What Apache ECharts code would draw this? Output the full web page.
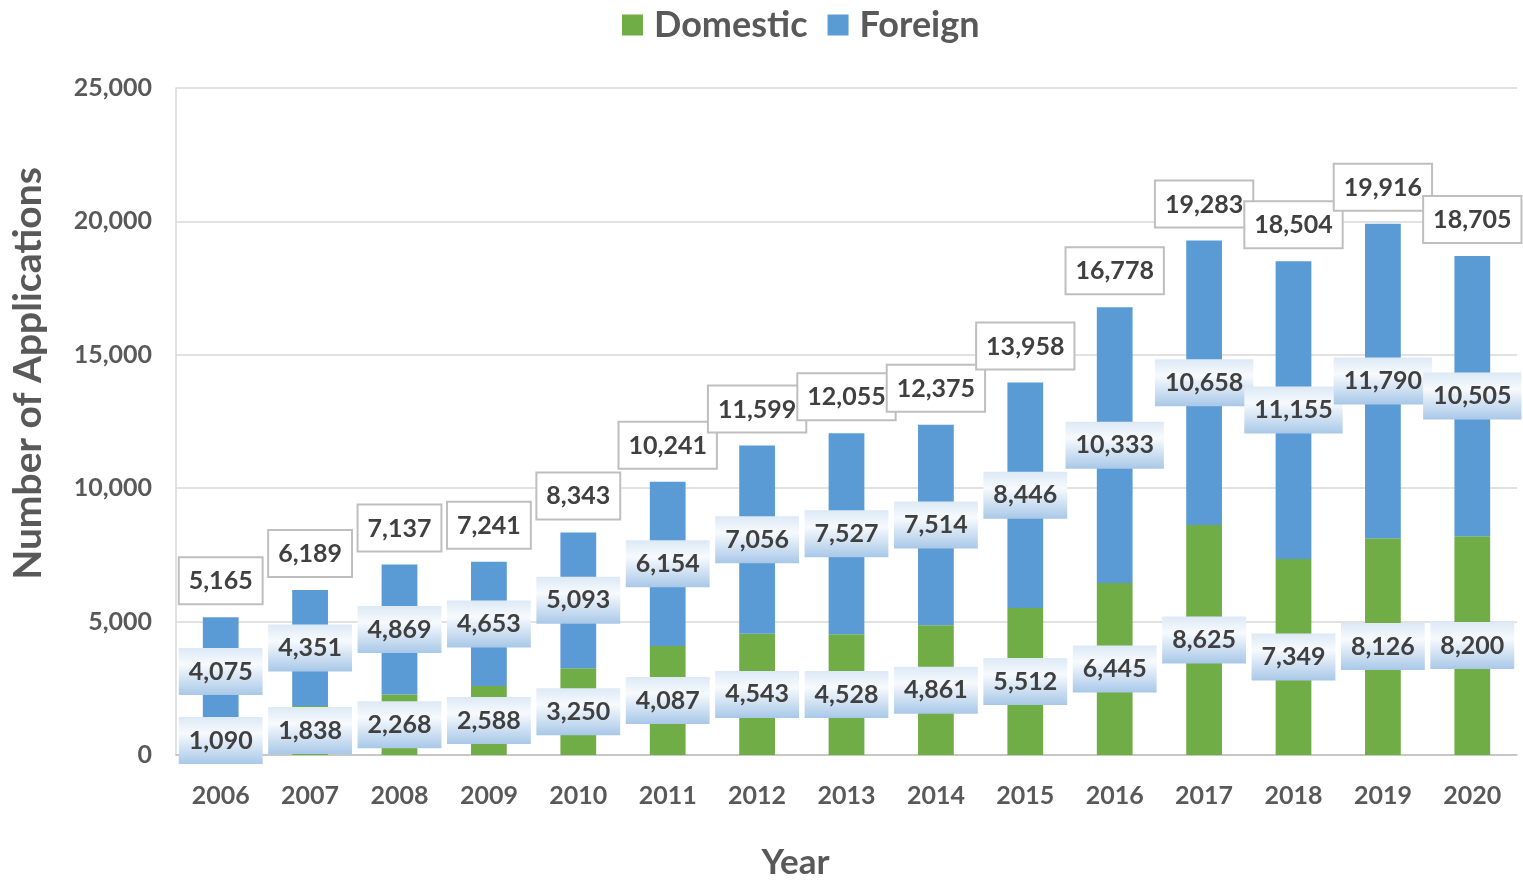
<!DOCTYPE html>
<html>
<head>
<meta charset="utf-8">
<script src="https://cdn.jsdelivr.net/npm/echarts@6/dist/echarts.min.js"></script>
<style>
html,body{margin:0;padding:0;background:#fff;}
#chart{width:1523px;height:881px;}
</style>
</head>
<body>
<div id="chart"></div>
<script>
const years = ['2006','2007','2008','2009','2010','2011','2012','2013','2014','2015','2016','2017','2018','2019','2020'];
const domestic = [1090,1838,2268,2588,3250,4087,4543,4528,4861,5512,6445,8625,7349,8126,8200];
const foreign = [4075,4351,4869,4653,5093,6154,7056,7527,7514,8446,10333,10658,11155,11790,10505];
const totals = [5165,6189,7137,7241,8343,10241,11599,12055,12375,13958,16778,19283,18504,19916,18705];
const yTicks = [0,5000,10000,15000,20000,25000];

const FONT = 'Lato, "Open Sans", sans-serif';
const fmt = v => Number(v).toLocaleString('en-US');

const chart = echarts.init(document.getElementById('chart'));
const grad = () => new echarts.graphic.LinearGradient(0,0,0,1,[
  {offset:0,color:'#dce9f6'},
  {offset:0.35,color:'#f7fafd'},
  {offset:1,color:'#a8c8e8'}
]);
const segLabel = {
  show:true, position:'inside',
  formatter: p => fmt(p.value),
  fontFamily:FONT, fontWeight:'bold', fontSize:25, color:'#404040',
  lineHeight:26,
  backgroundColor: grad(), padding:[11,10,10,10]
};
chart.setOption({
  animation:false,
  textStyle:{fontFamily:FONT},
  legend:{
    top:2, left:617, itemWidth:21, itemHeight:21, itemGap:20,
    icon:'rect',
    textStyle:{fontFamily:FONT, fontWeight:'bold', fontSize:36, color:'#595959', padding:[0,0,0,6]},
    data:['Domestic','Foreign']
  },
  grid:{left:176, right:6, top:88, bottom:126, outerBoundsMode:'none', containLabel:false},
  xAxis:{
    type:'category', data:years,
    name:'Year', nameLocation:'middle', nameGap:90,
    nameTextStyle:{fontFamily:FONT, fontWeight:'bold', fontSize:35, color:'#595959', padding:[0,102,0,0]},
    axisLine:{lineStyle:{color:'#bfbfbf', width:1.5}},
    axisTick:{show:false},
    axisLabel:{fontFamily:FONT, fontWeight:'bold', fontSize:25, color:'#595959', margin:28}
  },
  yAxis:{
    type:'value', min:0, max:25000, interval:5000,
    name:'Number of Applications', nameLocation:'middle', nameGap:128, nameRotate:90,
    nameTextStyle:{fontFamily:FONT, fontWeight:'bold', fontSize:39, color:'#595959', padding:[0,0,0,96]},
    axisLine:{show:true, lineStyle:{color:'#d9d9d9', width:1.5}},
    axisTick:{show:false},
    splitLine:{lineStyle:{color:'#d9d9d9', width:1.5}},
    axisLabel:{fontFamily:FONT, fontWeight:'bold', fontSize:25, color:'#595959', margin:24,
      formatter: v => yTicks.indexOf(v) >= 0 ? fmt(v) : ''}
  },
  series:[
    {name:'Domestic', type:'bar', stack:'a', data:domestic, barWidth:'40%',
      itemStyle:{color:'#70ad47'}, label:segLabel},
    {name:'Foreign', type:'bar', stack:'a', data:foreign, barWidth:'40%',
      itemStyle:{color:'#5b9bd5'}, label:segLabel},
    {name:'Total', type:'bar', data:totals, barWidth:'40%', barGap:'-100%',
      itemStyle:{color:'rgba(0,0,0,0)'}, silent:true, z:1,
      label:{show:true, position:'top', distance:14, formatter:p=>fmt(p.value),
        fontFamily:FONT, fontWeight:'bold', fontSize:25, color:'#404040', lineHeight:26,
        backgroundColor:'#ffffff', borderColor:'#bfbfbf', borderWidth:2, padding:[10,9,9,9]}}
  ]
});
</script>
</body>
</html>
